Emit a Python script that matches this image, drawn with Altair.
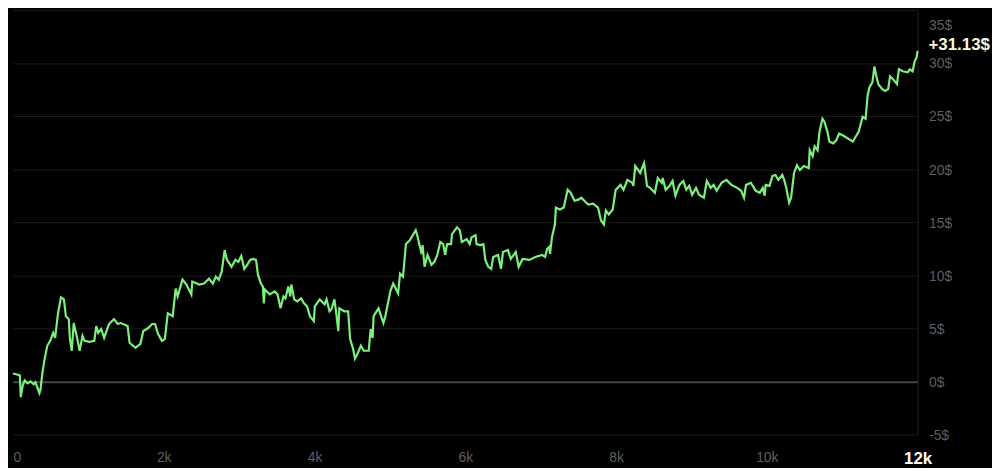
import altair as alt
import pandas as pd

# trades (x) and cumulative profit in $ (y)
trades = [0, 52, 91, 104, 130, 156, 195, 234, 273, 299, 351, 364, 390, 416, 455, 494, 533, 559, 598, 637,
          676, 702, 741, 754, 780, 806, 845, 884, 923, 949, 1014, 1079, 1105, 1131, 1170, 1209, 1274, 1339,
          1391, 1430, 1521, 1547, 1625, 1690, 1729, 1794, 1846, 1885, 1924, 1976, 2015, 2054, 2119, 2158,
          2184, 2249, 2301, 2366, 2379, 2470, 2535, 2600, 2652, 2691, 2730, 2769, 2808, 2834, 2899, 2951,
          2990, 3029, 3068, 3107, 3146, 3185, 3224, 3250, 3289, 3315, 3328, 3341, 3406, 3471, 3510, 3549,
          3588, 3614, 3653, 3679, 3692, 3731, 3770, 3822, 3861, 3900, 3939, 3991, 4004, 4069, 4134, 4160,
          4199, 4225, 4264, 4290, 4316, 4329, 4394, 4446, 4472, 4511, 4537, 4576, 4615, 4654, 4719, 4745,
          4771, 4784, 4849, 4914, 4940, 5005, 5044, 5109, 5135, 5174, 5213, 5265, 5343, 5369, 5421, 5434,
          5460, 5499, 5551, 5590, 5629, 5668, 5707, 5733, 5759, 5811, 5824, 5889, 5928, 5954, 6019, 6058,
          6084, 6136, 6149, 6201, 6240, 6266, 6305, 6344, 6370, 6435, 6474, 6500, 6565, 6604, 6669, 6708,
          6760, 6851, 6929, 7020, 7059, 7085, 7111, 7124, 7150, 7189, 7202, 7254, 7306, 7358, 7397, 7449,
          7501, 7540, 7579, 7631, 7696, 7761, 7800, 7839, 7865, 7904, 7956, 7995, 8060, 8099, 8151, 8216,
          8229, 8255, 8320, 8372, 8411, 8450, 8515, 8554, 8606, 8619, 8658, 8710, 8749, 8788, 8840, 8892,
          8931, 8970, 9009, 9061, 9100, 9165, 9204, 9256, 9295, 9334, 9399, 9464, 9529, 9607, 9659, 9698,
          9724, 9789, 9854, 9906, 9945, 9971, 9984, 10036, 10075, 10114, 10153, 10205, 10231, 10257, 10296,
          10322, 10361, 10400, 10439, 10491, 10556, 10569, 10608, 10634, 10673, 10699, 10738, 10764, 10803,
          10829, 10881, 10920, 10959, 11011, 11076, 11141, 11180, 11219, 11271, 11310, 11336, 11362, 11401,
          11427, 11453, 11479, 11531, 11570, 11609, 11635, 11674, 11726, 11752, 11804, 11869, 11895, 11934,
          11960, 11986, 12000]

profit = [0.74, 0.65, 0.56, -1.49, -0.37, 0.09, -0.19, 0.0, -0.28, -0.09, -1.12, -0.84, 0.74, 1.95, 3.35,
          3.81, 4.56, 4.09, 6.42, 7.91, 7.72, 6.14, 5.86, 4.09, 2.88, 5.49, 4.28, 2.88, 4.28, 3.81, 3.72,
          3.81, 5.21, 4.56, 4.93, 4.09, 5.40, 5.86, 5.40, 5.49, 5.21, 3.63, 3.16, 3.53, 4.74, 5.02, 5.40,
          5.40, 4.47, 3.81, 4.00, 6.42, 6.14, 8.74, 8.00, 9.58, 9.12, 8.19, 9.40, 9.12, 9.21, 9.67, 9.21,
          9.86, 9.58, 10.33, 12.37, 11.53, 10.79, 11.44, 11.26, 11.81, 10.60, 10.98, 11.44, 11.53, 11.44,
          10.05, 9.21, 8.93, 7.35, 8.65, 8.19, 8.47, 8.19, 6.88, 8.00, 7.81, 8.93, 8.00, 9.12, 7.72, 7.53,
          7.81, 7.35, 7.07, 6.14, 5.67, 7.07, 7.72, 7.26, 7.72, 6.60, 6.79, 7.72, 6.33, 4.74, 6.88, 6.60,
          6.60, 4.00, 3.07, 2.14, 2.70, 3.35, 2.88, 2.88, 4.93, 4.09, 6.14, 6.88, 5.49, 6.14, 8.47, 9.21,
          8.28, 10.14, 9.86, 12.93, 13.30, 14.23, 13.58, 12.00, 12.84, 10.79, 11.91, 10.98, 11.26, 11.91,
          13.12, 12.93, 11.91, 12.93, 12.93, 13.86, 14.51, 14.23, 13.12, 13.40, 12.93, 13.58, 13.77, 12.93,
          12.84, 12.93, 11.44, 10.79, 10.60, 11.72, 11.91, 10.60, 12.19, 12.37, 11.53, 12.19, 10.79, 11.53,
          11.44, 11.72, 11.91, 11.72, 12.47, 12.65, 12.00, 13.58, 14.79, 16.37, 16.19, 16.37, 18.05, 17.77,
          17.02, 17.12, 17.30, 17.02, 16.65, 16.74, 16.37, 15.16, 14.79, 16.09, 15.72, 16.19, 18.05, 18.51,
          18.05, 18.98, 18.70, 18.42, 20.28, 19.63, 20.56, 18.42, 18.23, 17.77, 19.16, 18.70, 19.16, 18.05,
          18.42, 18.88, 17.49, 18.51, 18.88, 18.05, 18.42, 17.58, 18.23, 17.58, 17.30, 18.88, 18.23, 18.51,
          17.95, 18.70, 18.98, 18.51, 18.23, 17.95, 17.30, 18.51, 18.70, 17.95, 17.77, 18.23, 17.49, 18.51,
          18.42, 19.35, 19.44, 18.98, 19.44, 18.98, 18.23, 16.84, 17.30, 19.63, 20.37, 19.91, 20.28, 20.09,
          21.77, 21.21, 22.14, 21.77, 23.53, 24.74, 24.47, 23.53, 22.60, 22.42, 22.70, 23.35, 23.16, 22.88,
          22.60, 23.07, 23.53, 24.93, 24.74, 26.88, 27.72, 28.19, 29.67, 28.74, 28.00, 27.53, 27.35, 27.53,
          28.74, 28.47, 28.00, 29.40, 29.21, 29.12, 29.40, 29.21, 30.14, 30.51, 31.13]

x_ticks = [0, 2000, 4000, 6000, 8000, 10000, 12000]
y_ticks = [-5, 0, 5, 10, 15, 20, 25, 30, 35]
last_label = "+31.13$"

df = pd.DataFrame({"trade": trades, "profit": profit})
last = pd.DataFrame({"trade": [trades[-1]], "profit": [profit[-1]], "label": [last_label]})

x_scale = alt.Scale(domain=[0, 12000], nice=False, zero=False)
y_scale = alt.Scale(domain=[-5, 35], nice=False, zero=False)

x_axis = alt.Axis(
    values=x_ticks,
    labelExpr="datum.value == 0 ? '0' : (datum.value / 1000) + 'k'",
    domain=False, ticks=False, grid=False, title=None,
    labelFont="Liberation Sans",
    labelFontSize={"condition": {"test": "datum.value == 12000", "value": 17}, "value": 14},
    labelFontWeight={"condition": {"test": "datum.value == 12000", "value": "bold"}, "value": "normal"},
    labelColor={"condition": {"test": "datum.value == 12000", "value": "#ffffff"}, "value": "#5e5e5e"},
    labelAlign={"condition": {"test": "datum.value == 0", "value": "left"}, "value": "center"},
    labelPadding=16, labelOverlap=False, labelBound=False,
)

y_axis = alt.Axis(
    orient="right", values=y_ticks, title=None,
    labelExpr="datum.value + '$'",
    ticks=False, domain=True, domainColor="#232323", domainWidth=1,
    grid=True,
    gridColor={"condition": {"test": "datum.value == 0", "value": "#454545"}, "value": "#1b1b1b"},
    gridWidth={"condition": {"test": "datum.value == 0", "value": 2}, "value": 1},
    labelFont="Liberation Sans", labelFontSize=14, labelColor="#5e5e5e",
    labelPadding=11,
    labelOffset={"condition": {"test": "datum.value == 35", "value": 16}, "value": 1},
    labelOverlap=False,
)

line = alt.Chart(df).mark_line(color="#7cf07c", strokeWidth=2.2, interpolate="linear").encode(
    x=alt.X("trade:Q", scale=x_scale, axis=x_axis),
    y=alt.Y("profit:Q", scale=y_scale, axis=y_axis),
)

label = alt.Chart(last).mark_text(
    align="left", baseline="middle", dx=11, dy=-6, font="Liberation Sans",
    fontSize=17, fontWeight="bold", color="#f7f8dc",
).encode(
    x=alt.X("trade:Q", scale=x_scale),
    y=alt.Y("profit:Q", scale=y_scale),
    text="label:N",
)

chart = (line + label).properties(
    width=912, height=428, background="#000000", padding={"left": 0, "top": 0, "right": 2, "bottom": 0}
).configure_view(strokeWidth=0)

chart.save("out.html", embed_options={"renderer": "svg", "actions": False})
